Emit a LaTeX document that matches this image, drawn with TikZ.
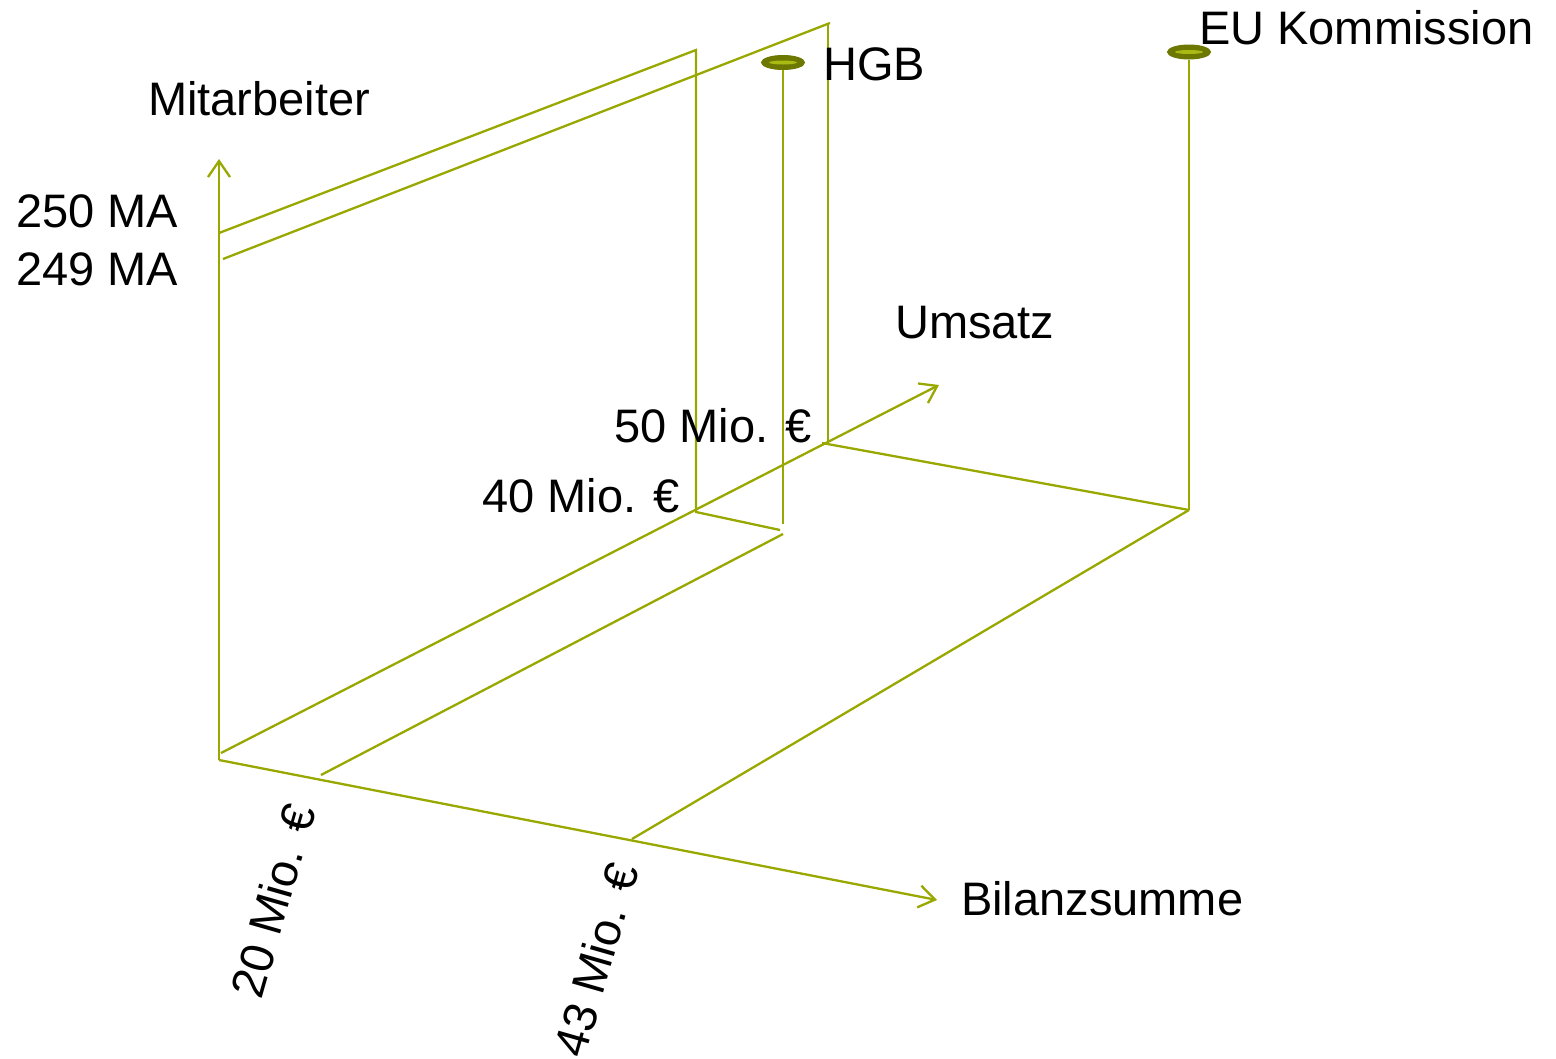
\documentclass[tikz,border=0pt]{standalone}
\usepackage{fontspec}
\setmainfont{Liberation Sans}
\usetikzlibrary{arrows.meta,shapes.geometric}
\definecolor{olive}{RGB}{152,168,0}
\definecolor{oliveDark}{RGB}{108,120,0}
\definecolor{oliveLight}{RGB}{170,186,20}
\begin{document}
\begin{tikzpicture}[x=1pt,y=-1pt,
  axisline/.style={draw=olive,line width=2.3pt},
  axisarrow/.style={axisline,-{Straight Barb[length=16pt,width=22pt,line width=2.3pt]}},
  lbl/.style={inner sep=0pt,font=\fontsize{47}{56}\selectfont,text=black},
  marker/.style={ellipse,draw=oliveDark,fill=oliveDark,line width=1pt,
    minimum width=43pt,minimum height=14pt,inner sep=0pt}]
\useasboundingbox (0,0) rectangle (1556,1058);

% axes
\coordinate (O) at (219,760);
\coordinate (Oy) at (221,753);
\coordinate (Ytip) at (219,159);
\coordinate (Xtip) at (937,900);
\coordinate (Ztip) at (939,385);
\draw[axisarrow] (O) -- (Ytip);
\draw[axisarrow] (O) -- (Xtip);
\draw[axisarrow] (Oy) -- (Ztip);

% ticks on the axes
\coordinate (y250) at (219,233);
\coordinate (y249) at (223,259);
\coordinate (x20) at (321,775);
\coordinate (x43) at (632,839);
\coordinate (z40) at (696,512);
\coordinate (z50) at (828,443);

% HGB plane
\coordinate (p40top) at (696,50);
\coordinate (p50top) at (830,23);
\coordinate (p50v) at (828,23);
\coordinate (hgbfoot) at (780,530);
\coordinate (hgbbase) at (783,534);
\coordinate (hgbpole) at (783,524);
\draw[axisline] (y250) -- (p40top) -- (z40) -- (hgbfoot);
\draw[axisline] (y249) -- (p50top);
\draw[axisline] (p50v) -- (z50);
\draw[axisline] (x20) -- (hgbbase);

% EU plane
\coordinate (eucorner) at (1189,510);
\coordinate (z50b) at (822,443);
\draw[axisline] (z50b) -- (eucorner);
\draw[axisline] (x43) -- (eucorner);

% poles, then the markers on top of them
\node[marker] (hgb) at (783,62.5) {};
\node[marker] (eu) at (1189,52) {};
\draw[axisline] (hgb.south) -- (hgbpole);
\draw[axisline] (eu.south) -- (eucorner);
\fill[oliveLight] (hgb.center) ellipse [x radius=14pt,y radius=2pt];
\fill[oliveLight] (eu.center) ellipse [x radius=14pt,y radius=2pt];

% labels
\node[lbl,anchor=base west] (tMA) at (148,115) {Mitarbeiter};
\node[lbl,anchor=base west] (t250) at (16,227) {250 MA};
\node[lbl,anchor=base west] (t249) at (16,285) {249 MA};
\node[lbl,anchor=base west] (tHGB) at (823,80) {HGB};
\node[lbl,anchor=base west] (tEU) at (1199,44) {EU Kommission};
\node[lbl,anchor=base west] (tUms) at (895,338) {Umsatz};
\node[lbl,anchor=base west] (t50) at (614,442) {50 Mio. €};
\node[lbl,anchor=base west] (t40) at (482,512) {40 Mio. €};
\node[lbl,anchor=base west] (tBil) at (961,915) {Bilanzsumme};
\node[lbl,anchor=center,rotate=74] (t20) at (273,901) {20 Mio. €};
\node[lbl,anchor=center,rotate=74] (t43) at (596,960) {43 Mio. €};
\end{tikzpicture}
\end{document}
